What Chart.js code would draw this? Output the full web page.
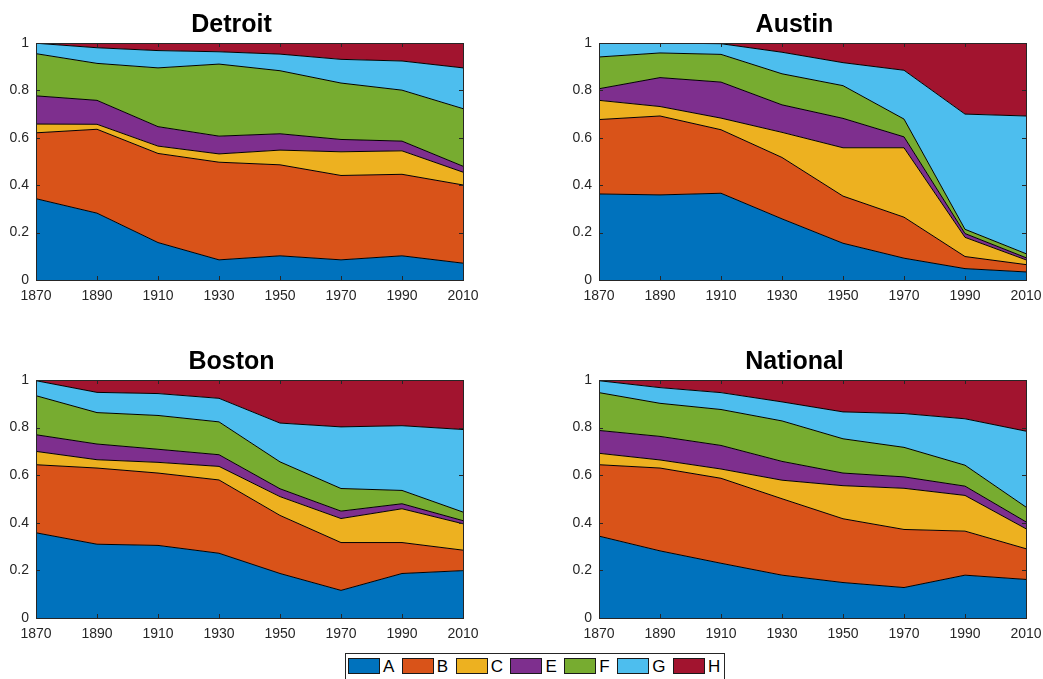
<!DOCTYPE html>
<html>
<head>
<meta charset="utf-8">
<title>Shares by city, 1870–2010</title>
<script src="https://cdn.jsdelivr.net/npm/chart.js@4/dist/chart.umd.min.js"></script>
<style>
  html, body { margin: 0; padding: 0; background: #fff; width: 1043px; height: 679px; overflow: hidden; }
  canvas.panel { position: absolute; }
  #legend {
    position: absolute; left: 345px; top: 653px; width: 380px; height: 40px;
    box-sizing: border-box; border: 1px solid #262626; background: #fff;
    display: flex; align-items: flex-start; padding: 4px 0 0 2px;
    font-family: "Liberation Sans", Arial, sans-serif; font-size: 17px; color: #000;
  }
  #legend .item { display: flex; align-items: flex-start; margin-right: 7.5px; }
  #legend .swatch { width: 32px; height: 16px; box-sizing: border-box; border: 1px solid #1a1a1a; }
  #legend .label { margin-left: 3px; line-height: 17px; height: 16px; }
</style>
</head>
<body>
<canvas id="detroit" class="panel" style="left:0px;top:0px"></canvas>
<canvas id="austin" class="panel" style="left:563px;top:0px"></canvas>
<canvas id="boston" class="panel" style="left:0px;top:337px"></canvas>
<canvas id="national" class="panel" style="left:563px;top:337px"></canvas>
<div id="legend"></div>
<script>
// Census years on the horizontal axis
const years = [1870, 1890, 1910, 1930, 1950, 1970, 1990, 2010];
const yTickLabels = ['0', '0.2', '0.4', '0.6', '0.8', '1'];

const seriesNames = ['A', 'B', 'C', 'E', 'F', 'G', 'H'];
const seriesColors = ['#0072BD', '#D95319', '#EDB120', '#7E2F8E', '#77AC30', '#4DBEEE', '#A2142F'];

// Detroit shares per series (each year sums to 1 across series)
const detroitA = [0.343, 0.282, 0.158, 0.085, 0.102, 0.085, 0.102, 0.071];
const detroitB = [0.278, 0.354, 0.376, 0.412, 0.384, 0.356, 0.344, 0.330];
const detroitC = [0.037, 0.021, 0.031, 0.035, 0.062, 0.100, 0.099, 0.054];
const detroitE = [0.119, 0.101, 0.082, 0.075, 0.069, 0.052, 0.041, 0.025];
const detroitF = [0.178, 0.156, 0.248, 0.304, 0.266, 0.238, 0.215, 0.243];
const detroitG = [0.044, 0.066, 0.073, 0.052, 0.070, 0.100, 0.123, 0.172];
const detroitH = [0.001, 0.020, 0.032, 0.037, 0.047, 0.069, 0.076, 0.105];

// Austin
const austinA = [0.363, 0.359, 0.366, 0.258, 0.155, 0.092, 0.048, 0.034];
const austinB = [0.314, 0.333, 0.268, 0.259, 0.199, 0.173, 0.051, 0.031];
const austinC = [0.081, 0.040, 0.049, 0.106, 0.204, 0.293, 0.081, 0.020];
const austinE = [0.049, 0.122, 0.152, 0.116, 0.124, 0.046, 0.016, 0.009];
const austinF = [0.134, 0.104, 0.117, 0.131, 0.138, 0.075, 0.018, 0.017];
const austinG = [0.059, 0.042, 0.045, 0.091, 0.097, 0.206, 0.486, 0.581];
const austinH = [0.000, 0.000, 0.003, 0.039, 0.083, 0.115, 0.300, 0.308];

// Boston
const bostonA = [0.358, 0.310, 0.305, 0.272, 0.187, 0.116, 0.187, 0.199];
const bostonB = [0.286, 0.320, 0.304, 0.308, 0.244, 0.201, 0.130, 0.086];
const bostonC = [0.056, 0.035, 0.045, 0.057, 0.079, 0.101, 0.142, 0.111];
const bostonE = [0.070, 0.066, 0.055, 0.049, 0.033, 0.031, 0.021, 0.013];
const bostonF = [0.164, 0.132, 0.142, 0.138, 0.113, 0.095, 0.056, 0.036];
const bostonG = [0.063, 0.085, 0.092, 0.099, 0.163, 0.259, 0.272, 0.347];
const bostonH = [0.003, 0.052, 0.057, 0.077, 0.181, 0.197, 0.192, 0.208];

// National
const nationalA = [0.344, 0.282, 0.230, 0.180, 0.149, 0.128, 0.180, 0.162];
const nationalB = [0.300, 0.348, 0.357, 0.321, 0.268, 0.244, 0.185, 0.129];
const nationalC = [0.048, 0.034, 0.039, 0.078, 0.139, 0.173, 0.150, 0.084];
const nationalE = [0.096, 0.099, 0.099, 0.079, 0.053, 0.048, 0.039, 0.029];
const nationalF = [0.159, 0.139, 0.151, 0.170, 0.144, 0.124, 0.088, 0.062];
const nationalG = [0.050, 0.066, 0.071, 0.080, 0.113, 0.142, 0.195, 0.319];
const nationalH = [0.003, 0.032, 0.053, 0.092, 0.134, 0.141, 0.163, 0.215];

const FONT = '"Liberation Sans", Arial, Helvetica, sans-serif';
const AXIS_COLOR = '#262626';

// Box around the axes with inward tick marks on all four sides
const axesBox = {
  id: 'axesBox',
  afterDatasetsDraw(chart) {
    const { ctx, chartArea: a, scales: { x, y } } = chart;
    const L = 4;
    ctx.save();
    ctx.strokeStyle = AXIS_COLOR;
    ctx.lineWidth = 1;
    ctx.beginPath();
    x.ticks.forEach(t => {
      const px = Math.round(x.getPixelForValue(t.value)) + 0.5;
      ctx.moveTo(px, a.bottom); ctx.lineTo(px, a.bottom - L);
      ctx.moveTo(px, a.top); ctx.lineTo(px, a.top + L);
    });
    y.ticks.forEach(t => {
      const py = Math.round(y.getPixelForValue(t.value)) + 0.5;
      ctx.moveTo(a.left, py); ctx.lineTo(a.left + L, py);
      ctx.moveTo(a.right, py); ctx.lineTo(a.right - L, py);
    });
    ctx.stroke();
    ctx.strokeRect(Math.round(a.left) + 0.5, Math.round(a.top) + 0.5,
                   Math.round(a.right - a.left), Math.round(a.bottom - a.top));
    ctx.restore();
  }
};

function makePanel(id, title, series, plotHeight) {
  const canvas = document.getElementById(id);
  const W = 500, H = 43 + plotHeight + 32;
  canvas.width = W; canvas.height = H;
  canvas.style.width = W + 'px'; canvas.style.height = H + 'px';

  const datasets = series.map((vals, i) => ({
    label: seriesNames[i],
    data: years.map((yr, k) => ({ x: yr, y: vals[k] })),
    backgroundColor: seriesColors[i],
    borderColor: '#000',
    borderWidth: 1,
    pointRadius: 0,
    pointHoverRadius: 0,
    tension: 0,
    fill: i === 0 ? 'origin' : '-1'
  }));

  new Chart(canvas, {
    type: 'line',
    data: { datasets },
    plugins: [axesBox],
    options: {
      responsive: false,
      animation: false,
      events: [],
      layout: { padding: { left: 0, right: 37, top: 0, bottom: 0 } },
      plugins: {
        legend: { display: false },
        tooltip: { enabled: false },
        title: {
          display: true,
          text: title,
          color: '#000',
          font: { family: FONT, size: 25, weight: 'bold', lineHeight: 1.2 },
          padding: { top: 10, bottom: 3 }
        }
      },
      scales: {
        x: {
          type: 'linear',
          min: years[0],
          max: years[years.length - 1],
          grid: { display: false, drawTicks: false },
          border: { display: false },
          ticks: {
            stepSize: 20,
            autoSkip: false,
            maxRotation: 0,
            padding: 8,
            color: AXIS_COLOR,
            font: { family: FONT, size: 14 },
            callback: v => String(v)
          },
          afterFit(s) { s.height = 32; }
        },
        y: {
          stacked: true,
          min: 0,
          max: 1,
          grid: { display: false, drawTicks: false },
          border: { display: false },
          ticks: {
            stepSize: 0.2,
            padding: 7,
            color: AXIS_COLOR,
            font: { family: FONT, size: 14 },
            callback: v => yTickLabels[Math.round(v * 5)]
          },
          afterFit(s) { s.width = 36; }
        }
      }
    }
  });
}

makePanel('detroit', 'Detroit',
  [detroitA, detroitB, detroitC, detroitE, detroitF, detroitG, detroitH], 237);
makePanel('austin', 'Austin',
  [austinA, austinB, austinC, austinE, austinF, austinG, austinH], 237);
makePanel('boston', 'Boston',
  [bostonA, bostonB, bostonC, bostonE, bostonF, bostonG, bostonH], 238);
makePanel('national', 'National',
  [nationalA, nationalB, nationalC, nationalE, nationalF, nationalG, nationalH], 238);

// Shared legend below the panels
const legend = document.getElementById('legend');
seriesNames.forEach((name, i) => {
  const item = document.createElement('div');
  item.className = 'item';
  const sw = document.createElement('div');
  sw.className = 'swatch';
  sw.style.background = seriesColors[i];
  const lab = document.createElement('span');
  lab.className = 'label';
  lab.textContent = name;
  item.appendChild(sw);
  item.appendChild(lab);
  legend.appendChild(item);
});
</script>
</body>
</html>
